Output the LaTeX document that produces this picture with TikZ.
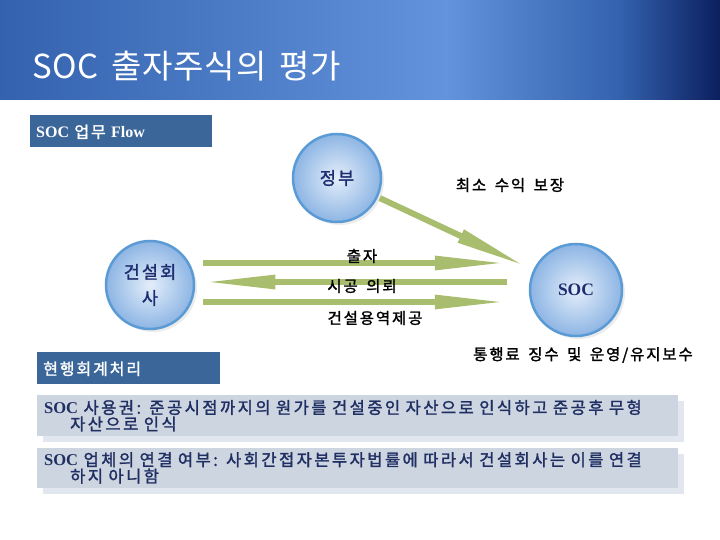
\documentclass[tikz,border=0pt]{standalone}
\usepackage{fontspec}
\setmainfont{Noto Sans CJK KR}[AutoFakeBold=1.6, LetterSpace=12, WordSpace=1.6]
\newfontfamily\titlefont{Noto Sans CJK KR}[LetterSpace=2, WordSpace=1.6]
\newfontfamily\notefont{Noto Sans CJK KR}[AutoFakeBold=1.6, LetterSpace=15, WordSpace=4.2]
\newfontfamily\latinserif{Liberation Serif}
\usetikzlibrary{positioning, arrows.meta, shadows}
\usepackage{xcolor}
\definecolor{BandLeft}  {HTML}{3462AE}
\definecolor{BandMid}   {HTML}{6393DC}
\definecolor{BandRight} {HTML}{0B1F5E}
\definecolor{SecBlue}   {HTML}{3B6699}
\definecolor{RimBlue}   {HTML}{5B9BD5}
\definecolor{HubIn}     {HTML}{E4EEFA}
\definecolor{HubOut}    {HTML}{8DB5E4}
\definecolor{HubText}   {HTML}{1C2C6E}
\definecolor{FlowGreen} {HTML}{A8BE6E}
\definecolor{BarFill}   {HTML}{CDD5E1}
\definecolor{BarShade}  {HTML}{E2E6EE}
\definecolor{BarText}   {HTML}{1F2F62}
\pgfdeclarehorizontalshading{titleband}{100bp}{
  color(0bp)=(BandLeft); color(25bp)=(BandLeft); color(56bp)=(BandMid);
  color(68bp)=(BandLeft); color(75bp)=(BandRight); color(100bp)=(BandRight)}
\tikzset{
  every node/.style={font=\bfseries},
  % circles of the flow
  hub/.style={circle, minimum size=88pt, inner sep=0pt, align=center,
              draw=RimBlue, line width=2.5pt, shading=radial,
              inner color=HubIn, outer color=HubOut, text=HubText,
              drop shadow={shadow xshift=3pt, shadow yshift=-3pt,
                           opacity=0.15},
              font=\fontsize{17.5}{26}\selectfont\bfseries},
  flow/.style={line width=6pt, draw=FlowGreen,
               -{Triangle[length=72pt, width=13pt]}},
  flowlbl/.style={font=\fontsize{15.5}{18}\selectfont\bfseries, text=black},
  secbox/.style={fill=SecBlue, text=white, anchor=north west,
                 minimum height=32pt, inner xsep=6pt, text depth=0pt},
  notebar/.style={fill=BarFill, anchor=north west, text=BarText,
                  minimum width=641pt, text width=627pt, align=left,
                  inner xsep=7pt, inner ysep=4pt,
                  drop shadow={shadow xshift=6pt, shadow yshift=-6pt,
                               fill=BarShade, opacity=1},
                  font=\notefont\fontsize{16.5}{16.5}\selectfont\bfseries},
}

\begin{document}
\begin{tikzpicture}[x=1pt, y=-1pt]
\useasboundingbox (0,0) rectangle (720,540);

% title band
\shade[shading=titleband] (0,0) rectangle (720,100);
\node[anchor=west, text=white, font=\titlefont\fontsize{33}{35}\selectfont]
  (title) at (29,66) {SOC 출자주식의 평가};

\node[secbox, minimum width=182pt, text width=170pt, align=left,
      font=\fontsize{16}{18}\selectfont\bfseries]
  (flowhdr) at (30,115) {{\latinserif SOC} 업무 {\latinserif Flow}};

\node[hub] (gov) at (337,178) {정부};
\node[hub] (con) at (150,285) {건설회\\사};
\node[hub, minimum size=92pt] (soc) at (576,290) {\latinserif SOC};

% arrows between the parties
\draw[flow, shorten <=2pt, shorten >=8pt] (gov) -- (soc);
\draw[flow, shorten <=8pt, shorten >=22pt]
  ([yshift=22pt]con.east) -- ([yshift=27pt]soc.west);
\draw[flow, shorten <=22pt, shorten >=8pt]
  ([yshift=8pt]soc.west) -- ([yshift=3pt]con.east);
\draw[flow, shorten <=8pt, shorten >=22pt]
  ([yshift=-17pt]con.east) -- ([yshift=-12pt]soc.west);

\node[flowlbl] (guar) at (510,185) {최소 수익 보장};
\node[flowlbl] (inv)  at (362,256) {출자};
\node[flowlbl] (req)  at (362,286) {시공 의뢰};
\node[flowlbl] (serv) at (375,318) {건설용역제공};
\node[flowlbl] (toll) at (583,355) {통행료 징수 및 운영/유지보수};

\node[secbox, minimum width=183pt, text width=171pt, align=left,
      font=\fontsize{16}{18}\selectfont\bfseries]
  (acchdr) at (37,352) {현행회계처리};

% accounting notes
\node[notebar, minimum height=41pt] (use) at (37,395)
  {{\latinserif SOC} 사용권: 준공시점까지의 원가를 건설중인 자산으로 인식하고 준공후 무형\\
   \hspace*{26pt}자산으로 인식};
\node[notebar, minimum height=38pt] (cons) at (37,448)
  {{\latinserif SOC} 업체의 연결 여부: 사회간접자본투자법률에 따라서 건설회사는 이를 연결\\
   \hspace*{26pt}하지 아니함};

\end{tikzpicture}
\end{document}
